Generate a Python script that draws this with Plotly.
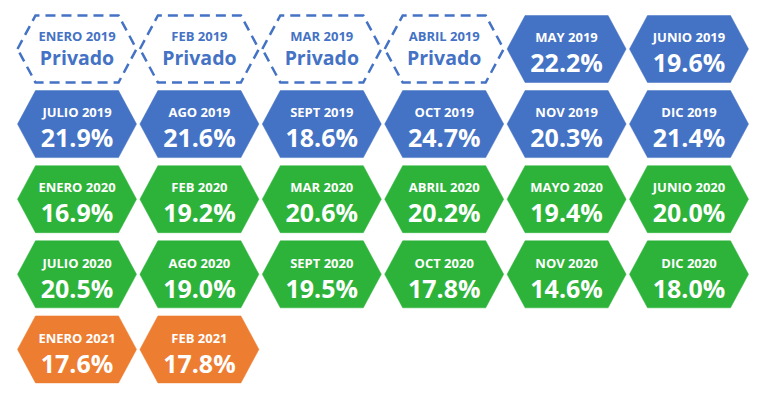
import plotly.graph_objects as go

# ---- data ----
months = ["ENERO 2019", "FEB 2019", "MAR 2019", "ABRIL 2019", "MAY 2019", "JUNIO 2019",
          "JULIO 2019", "AGO 2019", "SEPT 2019", "OCT 2019", "NOV 2019", "DIC 2019",
          "ENERO 2020", "FEB 2020", "MAR 2020", "ABRIL 2020", "MAYO 2020", "JUNIO 2020",
          "JULIO 2020", "AGO 2020", "SEPT 2020", "OCT 2020", "NOV 2020", "DIC 2020",
          "ENERO 2021", "FEB 2021"]
values = [None, None, None, None, 22.2, 19.6,
          21.9, 21.6, 18.6, 24.7, 20.3, 21.4,
          16.9, 19.2, 20.6, 20.2, 19.4, 20.0,
          20.5, 19.0, 19.5, 17.8, 14.6, 18.0,
          17.6, 17.8]
private_label = "Privado"

# ---- styles ----
year_colors = {"2019": "#4472C4", "2020": "#2DB33A", "2021": "#ED7D31"}
FONT = "Open Sans"
NCOL = 6
X0, DX = 77, 122.4
Y0, DY = 49, 75.1
HW, HH, INSET = 59.5, 33.5, 18

fig = go.Figure()

for i, (m, v) in enumerate(zip(months, values)):
    r, c = divmod(i, NCOL)
    cx = X0 + c * DX
    cy = Y0 + r * DY
    color = year_colors[m.split()[-1]]
    xs = [cx - HW, cx - HW + INSET, cx + HW - INSET, cx + HW, cx + HW - INSET, cx - HW + INSET, cx - HW]
    ys = [cy, cy - HH, cy - HH, cy, cy + HH, cy + HH, cy]
    if v is None:
        fig.add_trace(go.Scatter(x=xs, y=ys, mode="lines",
                                 line=dict(color=color, width=2.5, dash="10px,6px"),
                                 hoverinfo="skip", showlegend=False))
        fig.add_trace(go.Scatter(x=[cx], y=[cy - 11], mode="text", text=[m],
                                 textfont=dict(family=FONT, size=13, color=color, weight="bold"),
                                 hoverinfo="skip", showlegend=False))
        fig.add_trace(go.Scatter(x=[cx], y=[cy + 11], mode="text", text=[private_label],
                                 textfont=dict(family=FONT, size=19.5, color=color, weight="bold"),
                                 hoverinfo="skip", showlegend=False))
    else:
        fig.add_trace(go.Scatter(x=xs, y=ys, mode="lines", fill="toself",
                                 fillcolor=color, line=dict(color=color, width=0.5),
                                 hoverinfo="skip", showlegend=False))
        fig.add_trace(go.Scatter(x=[cx], y=[cy - 10], mode="text", text=[m],
                                 textfont=dict(family=FONT, size=13, color="white", weight="bold"),
                                 hoverinfo="skip", showlegend=False))
        fig.add_trace(go.Scatter(x=[cx], y=[cy + 17], mode="text", text=[f"{v:.1f}%"],
                                 textfont=dict(family=FONT, size=25, color="white", weight="bold"),
                                 hoverinfo="skip", showlegend=False))

fig.update_layout(
    width=768, height=409,
    margin=dict(l=0, r=0, t=0, b=0),
    paper_bgcolor="white", plot_bgcolor="white",
    xaxis=dict(range=[0, 768], visible=False, fixedrange=True),
    yaxis=dict(range=[409, 0], visible=False, fixedrange=True),
)

fig.write_html("out.html", config={"displayModeBar": False},
               post_script="document.body.style.margin='0px';")
